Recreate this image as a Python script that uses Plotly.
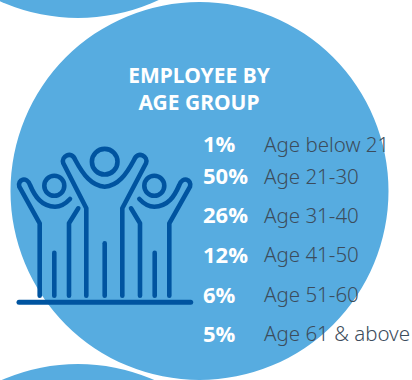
import plotly.graph_objects as go

# Age split of the workforce
age_groups = ["Age below 21", "Age 21-30", "Age 31-40", "Age 41-50", "Age 51-60", "Age 61 & above"]
shares = [1, 50, 26, 12, 6, 5]
row_y = [146.5, 178.5, 217.5, 257, 297, 336]
chart_title = "EMPLOYEE BY<br>AGE GROUP"

SKY = "#57ACE0"
NAVY = "#0054A0"
SLATE = "#3C4C5C"
FONT = "Open Sans"


def circle(cx, cy, r, **kw):
    return dict(type="circle", x0=cx - r, x1=cx + r, y0=cy - r, y1=cy + r,
                layer="below", line=dict(width=0), **kw)


def stroke(d, width=4.6):
    return dict(type="path", path=d, layer="below", line=dict(color=NAVY, width=width))


def ring(cx, cy, r):
    return dict(type="circle", x0=cx - r, x1=cx + r, y0=cy - r, y1=cy + r,
                layer="below", line=dict(color=NAVY, width=4.6))


def icon_xy(x, y):
    # Icon outlines are sketched on a 3x grid, offset to sit in the left of the disc
    return f"{x / 3:.1f},{130 + y / 3:.1f}"


def path(*cmds):
    out = []
    for c in cmds:
        out.append(c[0] + " ".join(icon_xy(*p) for p in c[1:]))
    return " ".join(out)


shapes = [
    circle(78, -172, 190, fillcolor=SKY),
    circle(78, 554, 190, fillcolor=SKY),
    circle(199.5, 191, 189, fillcolor=SKY),
]

# Ground line, three heads and the three raised-arm figures
shapes += [
    stroke(path(("M", (57, 517)), ("L", (572, 517))), 5),
    ring(104.7, 161.7, 12.8),
    ring(54.3, 185.7, 10),
    ring(154.3, 185.7, 10),
    # centre figure
    stroke(path(("M", (259, 497)), ("L", (259, 235)), ("L", (190, 100)),
                ("C", (182, 80), (215, 60), (226, 90)),
                ("C", (250, 135), (275, 168), (314, 170)),
                ("C", (353, 168), (378, 135), (402, 90)),
                ("C", (413, 60), (446, 80), (438, 100)),
                ("L", (367, 235)), ("L", (367, 497)))),
    stroke(path(("M", (314, 340)), ("L", (314, 497)))),
    # left figure
    stroke(path(("M", (119, 497)), ("L", (119, 280)), ("L", (58, 170)),
                ("C", (52, 148), (80, 138), (90, 165)),
                ("C", (105, 200), (125, 230), (165, 230)),
                ("C", (185, 230), (198, 220), (210, 207)))),
    stroke(path(("M", (207, 497)), ("L", (207, 280)), ("L", (235, 235)))),
    stroke(path(("M", (163, 368)), ("L", (163, 497)))),
    # right figure
    stroke(path(("M", (508, 497)), ("L", (508, 280)), ("L", (570, 170)),
                ("C", (576, 148), (548, 138), (538, 165)),
                ("C", (523, 200), (503, 230), (463, 230)),
                ("C", (443, 230), (430, 220), (418, 207)))),
    stroke(path(("M", (420, 497)), ("L", (420, 280)), ("L", (393, 235)))),
    stroke(path(("M", (464, 368)), ("L", (464, 497)))),
]

fig = go.Figure()

fig.add_trace(go.Scatter(
    x=[199], y=[91], text=[chart_title], mode="text",
    textposition="middle center", hoverinfo="skip",
    textfont=dict(family="Noto Sans", size=21, color="white", weight=700),
))
fig.add_trace(go.Scatter(
    x=[203] * len(shares), y=row_y, text=[f"{v}%" for v in shares], mode="text",
    textposition="middle right", hoverinfo="skip",
    textfont=dict(family=FONT, size=22, color="white", weight=700),
))
fig.add_trace(go.Scatter(
    x=[264] * len(age_groups), y=row_y, text=age_groups, mode="text",
    textposition="middle right", hoverinfo="skip",
    textfont=dict(family="Noto Sans", size=20.5, color=SLATE, weight=300),
))

fig.update_layout(
    width=412, height=380, margin=dict(l=0, r=0, t=0, b=0),
    paper_bgcolor="white", plot_bgcolor="white", showlegend=False, shapes=shapes,
    xaxis=dict(range=[0, 412], visible=False, fixedrange=True),
    yaxis=dict(range=[380, 0], visible=False, fixedrange=True),
)

# Rounded stroke ends for the figure outlines
round_caps = """
document.querySelectorAll('.shapelayer path').forEach(function (p) {
  p.style.strokeLinecap = 'round';
  p.style.strokeLinejoin = 'round';
});
"""
fig.write_html("out.html", config={"displayModeBar": False}, post_script=round_caps)
